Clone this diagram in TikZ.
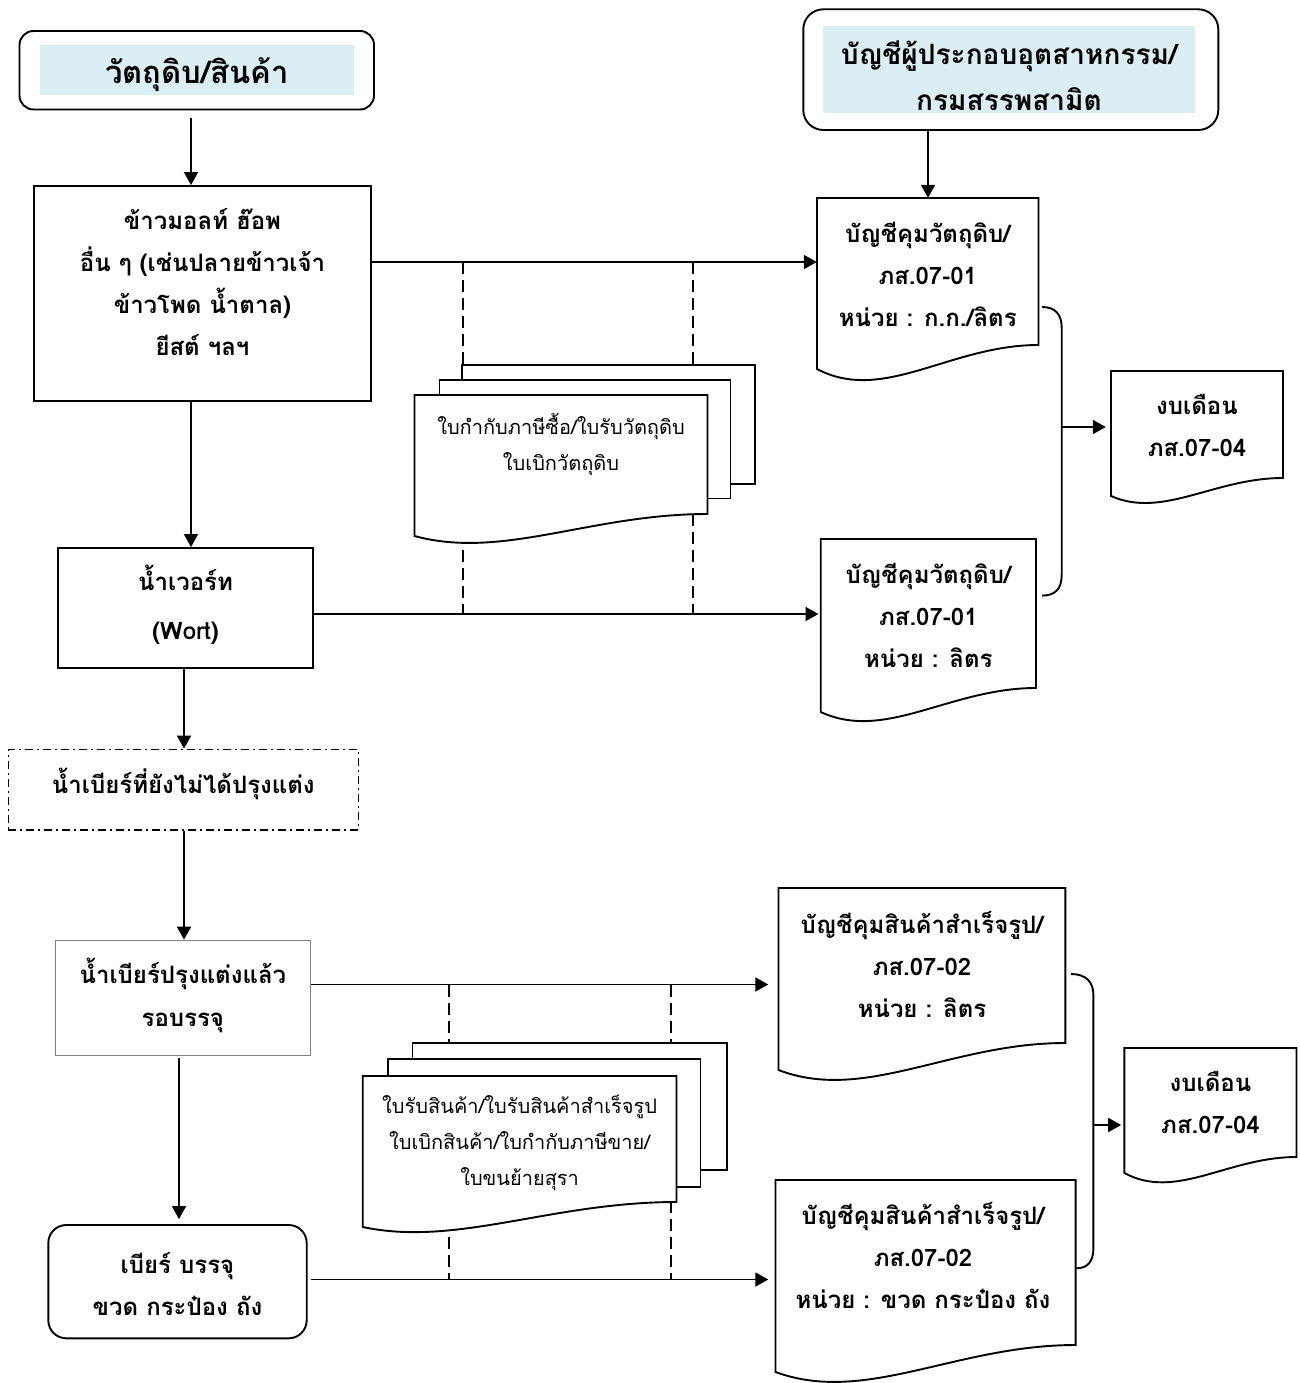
\documentclass[tikz,border=0pt]{standalone}
\usepackage{fontspec}
\setmainfont[Script=Thai]{Loma}
\usetikzlibrary{arrows.meta}
\definecolor{hdrfill}{HTML}{DAEEF3}
\newcommand\docoutline[6]{%
  \draw[docline] (#1,#2) -- (#3,#2) -- (#3,#5) .. controls ({#1+0.6*(#3-#1)},#5) and ({#1+0.3*(#3-#1)},{#4+#6}) .. (#1,#4) -- cycle;}
\begin{document}
\begin{tikzpicture}[x=1pt,y=-1pt,
  frame/.style={draw=black, line width=1.9pt, inner sep=0pt, fill=white},
  anchorbox/.style={inner sep=0pt, draw=none},
  hdrfillbox/.style={fill=hdrfill, inner sep=0pt},
  htxt/.style={font=\bfseries\fontsize{28}{46}\selectfont, align=center, inner sep=0pt},
  btxt/.style={font=\bfseries\fontsize{24}{42}\selectfont, align=center, inner sep=0pt},
  dtxt/.style={font=\fontsize{20}{36}\selectfont, align=center, inner sep=0pt},
  arr/.style={line width=1.9pt, -{Triangle[length=13pt,width=14pt]}},
  dashv/.style={line width=1.8pt, dash pattern=on 12pt off 6pt},
  docline/.style={draw=black, line width=1.9pt, fill=white, line join=miter},
  braceline/.style={line width=1.9pt}]
\useasboundingbox (0,0) rectangle (1299,1383);
% helper coordinates (columns and rows)
\coordinate (cA) at (191,0);
\coordinate (cB) at (928,0);
\coordinate (cC) at (184,0);
\coordinate (cD) at (179,0);
\coordinate (rA) at (0,262);
\coordinate (rB) at (0,614);
\coordinate (rC) at (0,984.5);
\coordinate (rD) at (0,1279.5);
\coordinate (vA1) at (463,0);
\coordinate (vA2) at (693,0);
\coordinate (vB1) at (449,0);
\coordinate (vB2) at (671,0);

% dashed guide lines (behind stacks)
\draw[dashv] (vA1 |- rA) -- (vA1 |- rB);
\draw[dashv] (vA2 |- rA) -- (vA2 |- rB);
\draw[dashv] (vB1 |- rC) -- (vB1 |- rD);
\draw[dashv] (vB2 |- rC) -- (vB2 |- rD);

% header boxes
\node[frame, rounded corners=14pt, minimum width=354.5pt, minimum height=78.5pt] (h1) at (196.75,70.25) {};
\node[hdrfillbox, minimum width=314pt, minimum height=50pt] (h1f) at (197,70) {};
\node[htxt, font=\bfseries\fontsize{31}{46}\selectfont] (h1t) at (197,75) {วัตถุดิบ/สินค้า};

\node[frame, rounded corners=20pt, minimum width=415pt, minimum height=120.7pt] (h2) at (1010.8,69.65) {};
\node[hdrfillbox, minimum width=371.7pt, minimum height=87.3pt] (h2f) at (1009.15,69.65) {};
\node[htxt] (h2t) at (1009,76) {บัญชีผู้ประกอบอุตสาหกรรม/\\กรมสรรพสามิต};

% left column
\node[frame, minimum width=337pt, minimum height=215pt] (b1) at (202.5,293.5) {};
\node[btxt] (b1t) at (202.5,282) {ข้าวมอลท์ ฮ๊อพ\\อื่น ๆ (เช่นปลายข้าวเจ้า\\ข้าวโพด น้ำตาล)\\ยีสต์ ฯลฯ};

\node[frame, minimum width=255pt, minimum height=120pt] (w1) at (185.5,608) {};
\node[btxt] (w1t) at (185.5,605) {น้ำเวอร์ท\\[7pt](Wort)};

\node[draw=black, line width=1.4pt, inner sep=0pt, dash pattern=on 8pt off 4pt on 2pt off 4pt, minimum width=350pt, minimum height=80.7pt] (p1) at (183.3,789.65) {};
\node[btxt] (p1t) at (183.3,784) {น้ำเบียร์ที่ยังไม่ได้ปรุงแต่ง};

\node[draw=gray, line width=0.8pt, inner sep=0pt, fill=white, minimum width=255.7pt, minimum height=115pt] (r1) at (182.85,997.5) {};
\node[btxt] (r1t) at (182.85,995) {น้ำเบียร์ปรุงแต่งแล้ว\\[1pt]รอบรรจุ};

\node[frame, rounded corners=18pt, minimum width=258.4pt, minimum height=113.3pt] (k1) at (177.5,1281.65) {};
\node[btxt] (k1t) at (177.5,1284) {เบียร์ บรรจุ\\ขวด กระป๋อง ถัง};

% document stacks
\node[frame, minimum width=293pt, minimum height=119pt] (s1c) at (608.5,424.5) {};
\node[frame, minimum width=291pt, minimum height=118.5pt] (s1b) at (585,439.25) {};
\docoutline{414.5}{395}{707.5}{536}{514}{24}
\node[anchorbox, minimum width=293pt, minimum height=119pt] (s1a) at (561,454.5) {};
\node[dtxt] (s1t) at (561,445) {ใบกำกับภาษีซื้อ/ใบรับวัตถุดิบ\\ใบเบิกวัตถุดิบ};

\node[frame, minimum width=314.5pt, minimum height=126.7pt] (s2c) at (569.75,1106.65) {};
\node[frame, minimum width=312.2pt, minimum height=127.7pt] (s2b) at (544.4,1123.15) {};
\docoutline{362.7}{1076}{676.5}{1227}{1202}{20}
\node[anchorbox, minimum width=313.8pt, minimum height=126pt] (s2a) at (519.6,1139) {};
\node[dtxt] (s2t) at (519.6,1143) {ใบรับสินค้า/ใบรับสินค้าสำเร็จรูป\\ใบเบิกสินค้า/ใบกำกับภาษีขาย/\\ใบขนย้ายสุรา};

% ledger documents
\node[anchorbox, minimum width=221.5pt, minimum height=147pt] (d1) at (927.75,271.5) {};
\docoutline{817}{198}{1038.5}{369}{345}{35}
\node[btxt] (d1t) at (927.75,274) {บัญชีคุมวัตถุดิบ/\\ภส.07-01\\หน่วย : ก.ก./ลิตร};

\node[anchorbox, minimum width=215.3pt, minimum height=149pt] (d2) at (928.35,613.5) {};
\docoutline{820.7}{539}{1036}{712}{688}{30}
\node[btxt] (d2t) at (928.35,615.5) {บัญชีคุมวัตถุดิบ/\\ภส.07-01\\หน่วย : ลิตร};

\node[anchorbox, minimum width=172pt, minimum height=107pt] (m1) at (1197,424.5) {};
\docoutline{1111}{371}{1283}{496}{478}{23}
\node[btxt] (m1t) at (1197,425.5) {งบเดือน\\ภส.07-04};

\node[anchorbox, minimum width=286.8pt, minimum height=155pt] (d3) at (921.9,965.5) {};
\docoutline{778.5}{888}{1065.3}{1070}{1043}{33}
\node[btxt] (d3t) at (922,964) {บัญชีคุมสินค้าสำเร็จรูป/\\ภส.07-02\\หน่วย : ลิตร};

\node[anchorbox, minimum width=300.1pt, minimum height=165pt] (d4) at (925.55,1262.5) {};
\docoutline{775.5}{1180}{1075.6}{1372}{1345}{33}
\node[btxt] (d4t) at (923,1255.5) {บัญชีคุมสินค้าสำเร็จรูป/\\ภส.07-02\\หน่วย : ขวด กระป๋อง ถัง};

\node[anchorbox, minimum width=172.1pt, minimum height=109pt] (m2) at (1210.45,1102.5) {};
\docoutline{1124.4}{1048}{1296.5}{1173}{1157}{28}
\node[btxt] (m2t) at (1210.45,1102.5) {งบเดือน\\ภส.07-04};

% connectors
\draw[arr, shorten <=8pt] (h1.south -| cA) -- (b1.north -| cA);
\draw[arr] (h2.south -| cB) -- (d1.north -| cB);
\draw[arr] (b1.east |- rA) -- (d1.west |- rA);
\draw[arr] (b1.south -| cA) -- (w1.north -| cA);
\draw[arr, shorten >=2pt] (w1.east |- rB) -- (d2.west |- rB);
\draw[arr] (w1.south -| cC) -- (p1.north -| cC);
\draw[arr] (p1.south -| cC) -- (r1.north -| cC);
\draw[arr, shorten >=10pt] (r1.east |- rC) -- (d3.west |- rC);
\draw[arr, shorten <=3pt, shorten >=5pt] (r1.south -| cD) -- (k1.north -| cD);
\draw[arr, shorten <=3pt, shorten >=7pt] (k1.east |- rD) -- (d4.west |- rD);

% braces
\coordinate (bj1) at (1061.7,427);
\coordinate (bj2) at (1093.4,1125);
\draw[braceline] (1042,307) .. controls (1055,307) and (1061.7,314) .. (1061.7,328) -- (1061.7,575) .. controls (1061.7,589) and (1055,595.6) .. (1042,595.6);
\draw[arr, shorten >=5pt] (bj1) -- (m1.west |- bj1);
\draw[braceline] (1071,974) .. controls (1086,974) and (1093.4,982) .. (1093.4,995) -- (1093.4,1248) .. controls (1093.4,1261) and (1088,1268.3) .. (1076.3,1268.3);
\draw[arr, shorten >=3pt] (bj2) -- (m2.west |- bj2);
\end{tikzpicture}
\end{document}
